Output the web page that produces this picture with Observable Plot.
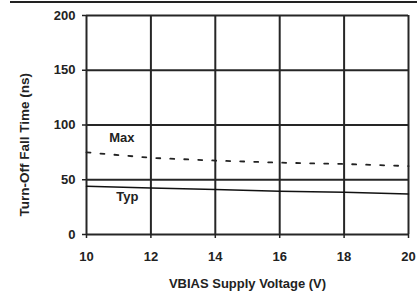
<!DOCTYPE html>
<html><head><meta charset="utf-8">
<script src="https://cdn.jsdelivr.net/npm/d3@7"></script>
<script src="https://cdn.jsdelivr.net/npm/@observablehq/plot@0.6"></script>
<style>
body{margin:0;background:#fff;}
#wrap{position:relative;width:417px;height:294px;overflow:hidden;}
#topline{position:absolute;left:10px;right:0;top:1px;height:0;border-top:2px solid #222;}
</style>
</head><body>
<div id="wrap"><div id="topline"></div><div id="chart"></div></div>
<script>
const voltage = [10, 12, 14, 16, 18, 20];
const typValues = [44, 42.5, 41, 39.5, 38.5, 37];
const maxValues = [75, 70, 67.5, 65.6, 64.4, 62.5];
const xTicks = [10, 12, 14, 16, 18, 20];
const yTicks = [0, 50, 100, 150, 200];
const seriesLabels = ["Max", "Typ"];
const labelX = [11.1, 11.27];
const labelY = [88, 34.3];
const yTitle = "Turn-Off Fall Time (ns)";
const yTitleAt = [82];
const xTitle = "VBIAS Supply Voltage (V)";

const typData = voltage.map((v, i) => ({v, t: typValues[i]}));
const maxData = voltage.map((v, i) => ({v, t: maxValues[i]}));
const labelData = seriesLabels.map((s, i) => ({s, x: labelX[i], y: labelY[i]}));

const chart = Plot.plot({
  width: 417, height: 294,
  marginLeft: 86, marginRight: 9, marginTop: 15, marginBottom: 60,
  style: {fontFamily: "'Liberation Sans', Arial, sans-serif", fontSize: "13px", fontWeight: "bold", color: "#222", background: "transparent"},
  x: {domain: [10, 20]},
  y: {domain: [0, 200]},
  marks: [
    Plot.ruleX(xTicks, {stroke: "#262626", strokeWidth: 2}),
    Plot.ruleY(yTicks, {stroke: "#262626", strokeWidth: 2}),
    Plot.axisX({ticks: xTicks, tickSize: 4, tickPadding: 13, tickFormat: d => d, stroke: "#222", strokeWidth: 1.5,
      fontSize: 13, label: xTitle, labelAnchor: "center", labelArrow: "none", labelOffset: 53}),
    Plot.axisY({ticks: yTicks, tickSize: 4, tickPadding: 7, tickFormat: d => d, stroke: "#222", strokeWidth: 1.5,
      fontSize: 13, label: null}),
    Plot.text(yTitleAt, {y: d => d, frameAnchor: "left", textAnchor: "middle", text: () => yTitle, rotate: -90, dx: -62,
      fontSize: 13.5, fontWeight: "bold", fill: "#222"}),
    Plot.line(typData, {x: "v", y: "t", stroke: "#111", strokeWidth: 1.5}),
    Plot.line(maxData, {x: "v", y: "t", stroke: "#222", strokeWidth: 1.8, strokeDasharray: "4,10"}),
    Plot.text(labelData, {x: "x", y: "y", text: "s", fontSize: 13, fontWeight: "bold", fill: "#222"})
  ]
});
document.getElementById("chart").appendChild(chart);
</script>
</body></html>
